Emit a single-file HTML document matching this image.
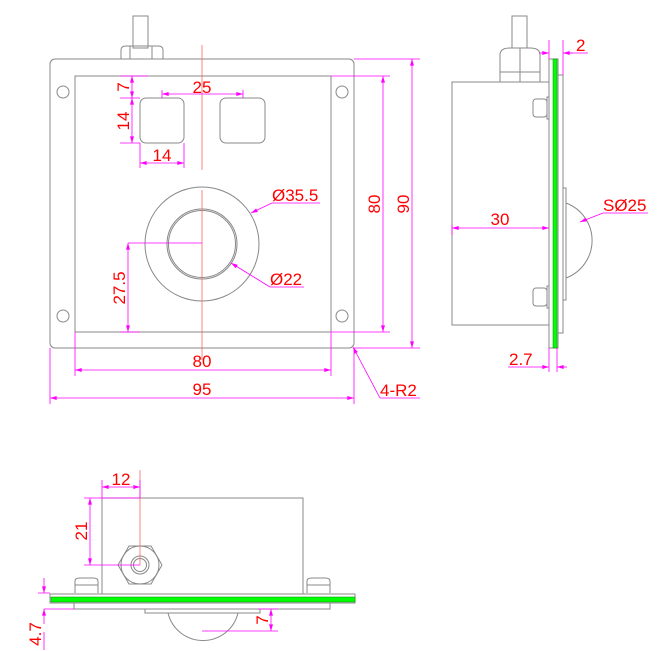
<!DOCTYPE html>
<html><head><meta charset="utf-8"><style>
html,body{margin:0;padding:0;background:#fff}
svg{display:block}
text{font-family:"Liberation Sans",sans-serif;fill:#f00;font-size:17px}
</style></head><body>
<svg width="662" height="651" viewBox="0 0 662 651" xmlns="http://www.w3.org/2000/svg">
<defs>
<marker id="a" viewBox="0 0 10 6" refX="10" refY="3" markerWidth="10" markerHeight="5" orient="auto-start-reverse"><path d="M0,0L10,3L0,6z" fill="#f0f"/></marker>
</defs>
<g fill="none" stroke="#888" stroke-width="1">
<!-- front view -->
<rect x="50" y="59" width="304" height="289" rx="5"/>
<rect x="75" y="76" width="256" height="256"/>
<circle cx="63" cy="92" r="6"/><circle cx="342" cy="92" r="6"/>
<circle cx="63" cy="316" r="6"/><circle cx="342" cy="316" r="6"/>
<rect x="140" y="98" width="44" height="45" rx="6"/>
<rect x="220" y="98" width="45" height="45" rx="6"/>
<rect x="133" y="16" width="15" height="32"/>
<path d="M121,59 V50 Q121,46 126,46 H158 Q163,46 163,50 V59 M130,46 V59 M152,46 V59"/>
<circle cx="202" cy="244" r="57"/>
<circle cx="202" cy="244" r="35"/><circle cx="202" cy="244" r="33.5"/>
<!-- side view -->
<rect x="452" y="82" width="97" height="243"/>
<rect x="549" y="59" width="9" height="289"/>
<rect x="558" y="75" width="5" height="258"/>
<rect x="563" y="188" width="3" height="112"/>
<path d="M566,203 A40,40 0 0 1 566,278"/>
<rect x="512" y="16" width="15" height="32"/>
<path d="M500,82 V55 Q500,48 510,48 H530 Q540,48 540,55 V82 M500,72 H540 M520,48 V82"/>
<rect x="533" y="99" width="14" height="18" rx="3"/><rect x="547" y="97" width="2" height="22"/>
<rect x="533" y="288" width="14" height="18" rx="3"/><rect x="547" y="286" width="2" height="22"/>
<!-- bottom view -->
<rect x="102" y="498" width="201" height="96"/>
<rect x="50" y="594" width="305" height="9"/>
<rect x="74" y="603" width="256" height="6"/>
<rect x="145" y="609" width="115" height="4"/>
<path d="M168,613 A36,36 0 0 0 238,613"/>
<polygon points="118,565 129,546 151,546 162,565 151,584 129,584"/>
<circle cx="140" cy="565" r="19"/>
<circle cx="140" cy="565" r="9"/><circle cx="140" cy="565" r="6.5"/>
<path d="M75,593 V581 Q75,578 80,578 H93 Q98,578 98,581 V593 M75,585 H98"/>
<path d="M307,593 V581 Q307,578 312,578 H325 Q330,578 330,581 V593 M307,585 H330"/>
</g>
<!-- green -->
<rect x="553" y="59" width="4" height="289" fill="#0f0" stroke="#080" stroke-width="0.5"/>
<rect x="51" y="597" width="304" height="5" fill="#0f0" stroke="#080" stroke-width="0.5"/>
<!-- center lines -->
<g stroke="#f66" stroke-width="0.8">
<line x1="202" y1="45" x2="202" y2="170"/>
<line x1="202" y1="190" x2="202" y2="360"/>
<line x1="140" y1="470" x2="140" y2="565"/>
</g>
<!-- dims -->
<g stroke="#f0f" stroke-width="0.8" fill="none">
<path d="M120,76 H148 M120,98 H140 M120,143 H140 M140,143 V168 M184,143 V168 M162,90 V98 M243,90 V98"/>
<line x1="132" y1="76" x2="132" y2="98" marker-start="url(#a)" marker-end="url(#a)"/>
<line x1="132" y1="98" x2="132" y2="143" marker-start="url(#a)" marker-end="url(#a)"/>
<line x1="162" y1="94" x2="243" y2="94" marker-start="url(#a)" marker-end="url(#a)"/>
<line x1="140" y1="163" x2="184" y2="163" marker-start="url(#a)" marker-end="url(#a)"/>
<path d="M128,243 H202 M120,332 H140"/>
<line x1="128" y1="243" x2="128" y2="332" marker-start="url(#a)" marker-end="url(#a)"/>
<line x1="251" y1="213" x2="272" y2="203" marker-start="url(#a)"/><path d="M272,203 H320"/>
<line x1="231" y1="263" x2="270" y2="287" marker-start="url(#a)"/><path d="M270,287 H304"/>
<path d="M331,76 H390 M354,59 H420 M331,332 H390 M354,348 H420"/>
<line x1="383" y1="76" x2="383" y2="332" marker-start="url(#a)" marker-end="url(#a)"/>
<line x1="412" y1="59" x2="412" y2="348" marker-start="url(#a)" marker-end="url(#a)"/>
<path d="M75,332 V376 M331,332 V376 M50,348 V404 M354,348 V404"/>
<line x1="75" y1="370" x2="331" y2="370" marker-start="url(#a)" marker-end="url(#a)"/>
<line x1="50" y1="398" x2="354" y2="398" marker-start="url(#a)" marker-end="url(#a)"/>
<line x1="353" y1="347" x2="380" y2="398" marker-start="url(#a)"/><path d="M380,398 H420"/>
<!-- side -->
<line x1="452" y1="228" x2="549" y2="228" marker-start="url(#a)" marker-end="url(#a)"/>
<path d="M452,225 V235 M549,40 V59 M563,40 V75 M563,53 H588"/>
<line x1="539" y1="53" x2="549" y2="53" marker-end="url(#a)"/>
<line x1="573" y1="53" x2="563" y2="53" marker-end="url(#a)"/>
<line x1="580" y1="222" x2="603" y2="213" marker-start="url(#a)"/><path d="M603,213 H648"/>
<path d="M549,348 V372 M557,348 V372 M508,367 H539"/>
<line x1="539" y1="367" x2="549" y2="367" marker-end="url(#a)"/>
<line x1="567" y1="367" x2="557" y2="367" marker-end="url(#a)"/>
<!-- bottom -->
<path d="M102,480 V498 M140,480 V498 M84,498 H140 M84,565 H140"/>
<line x1="102" y1="487" x2="140" y2="487" marker-start="url(#a)" marker-end="url(#a)"/>
<line x1="90" y1="498" x2="90" y2="565" marker-start="url(#a)" marker-end="url(#a)"/>
<path d="M38,593 H50 M44,609 H74 M44,578 V583 M44,632 V650"/>
<line x1="44" y1="583" x2="44" y2="593" marker-end="url(#a)"/>
<line x1="44" y1="624" x2="44" y2="609" marker-end="url(#a)"/>
<path d="M258,609 H278 M202,631 H278"/>
<line x1="271" y1="609" x2="271" y2="631" marker-start="url(#a)" marker-end="url(#a)"/>
</g>
<!-- labels -->
<text x="202" y="93" text-anchor="middle">25</text>
<text x="162" y="161" text-anchor="middle">14</text>
<text transform="translate(129,87) rotate(-90)" text-anchor="middle">7</text>
<text transform="translate(129,121) rotate(-90)" text-anchor="middle">14</text>
<text transform="translate(125,288) rotate(-90)" text-anchor="middle">27.5</text>
<text x="272" y="201">Ø35.5</text>
<text x="270" y="285">Ø22</text>
<text transform="translate(380,204) rotate(-90)" text-anchor="middle">80</text>
<text transform="translate(409,204) rotate(-90)" text-anchor="middle">90</text>
<text x="202" y="367" text-anchor="middle">80</text>
<text x="202" y="395" text-anchor="middle">95</text>
<text x="380" y="396">4-R2</text>
<text x="500" y="225" text-anchor="middle">30</text>
<text x="576" y="51">2</text>
<text x="603" y="211">SØ25</text>
<text x="509" y="365">2.7</text>
<text x="121" y="485" text-anchor="middle">12</text>
<text transform="translate(87,531) rotate(-90)" text-anchor="middle">21</text>
<text transform="translate(41,634) rotate(-90)" text-anchor="middle">4.7</text>
<text transform="translate(268,620) rotate(-90)" text-anchor="middle">7</text>
</svg>
</body></html>
